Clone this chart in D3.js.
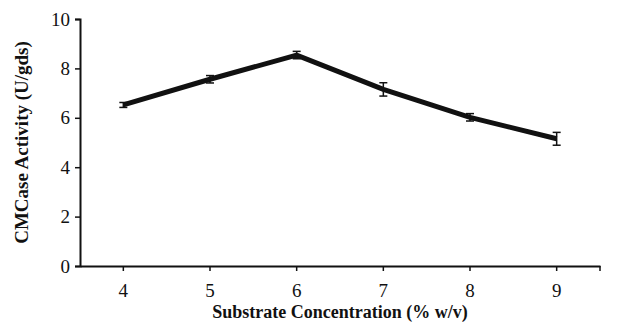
<!DOCTYPE html>
<html>
<head>
<meta charset="utf-8">
<script src="https://cdn.jsdelivr.net/npm/d3@7"></script>
<style>
  body { margin: 0; background: #fff; }
  text { font-family: "Liberation Serif", "Times New Roman", serif; fill: #111; }
</style>
</head>
<body>
<svg id="chart" width="636" height="322"></svg>
<script>
// substrate concentration (% w/v)
const categories = ['4', '5', '6', '7', '8', '9'];
// CMCase activity (U/gds)
const activity = [6.52, 7.56, 8.54, 7.15, 6.02, 5.15];
const errors = [0.10, 0.15, 0.15, 0.27, 0.15, 0.26];
const yTicks = [0, 2, 4, 6, 8, 10];

const margin = { top: 19, right: 36, bottom: 56, left: 80 };
const width = 636, height = 322;

const svg = d3.select('#chart');

const x = d3.scaleBand()
    .domain(categories)
    .range([margin.left, width - margin.right]);

const y = d3.scaleLinear()
    .domain([0, 10])
    .range([height - margin.bottom, margin.top]);

const cx = d => x(d) + x.bandwidth() / 2;

// y axis
const yAxis = svg.append('g')
    .attr('transform', 'translate(' + margin.left + ',0)')
    .call(d3.axisLeft(y).tickValues(yTicks).tickSize(5).tickPadding(5));
yAxis.select('.domain').attr('stroke', '#111').attr('stroke-width', 2);
yAxis.selectAll('.tick line').attr('stroke', '#111').attr('stroke-width', 1.5);
yAxis.selectAll('text').style('font-size', '19px').attr('fill', '#111');

// x axis - ticks under each category label
const xAxis = svg.append('g')
    .attr('transform', 'translate(0,' + (height - margin.bottom) + ')')
    .call(d3.axisBottom(x).tickSize(5).tickSizeOuter(0).tickPadding(13));
xAxis.select('.domain').attr('stroke', '#111').attr('stroke-width', 2);
xAxis.selectAll('.tick line').attr('stroke', '#111').attr('stroke-width', 1.5);
xAxis.selectAll('text').style('font-size', '19px').attr('fill', '#111');
xAxis.append('line')
    .attr('x1', width - margin.right).attr('x2', width - margin.right)
    .attr('y1', 0).attr('y2', 5)
    .attr('stroke', '#111').attr('stroke-width', 1.5);

// axis titles
svg.append('text')
    .attr('x', (margin.left + width - margin.right) / 2)
    .attr('y', height - 4)
    .attr('text-anchor', 'middle')
    .style('font-size', '18px')
    .style('font-weight', 'bold')
    .text('Substrate Concentration (% w/v)');

svg.append('text')
    .attr('transform', 'translate(28,' + ((margin.top + height - margin.bottom) / 2) + ') rotate(-90)')
    .attr('text-anchor', 'middle')
    .style('font-size', '19px')
    .style('font-weight', 'bold')
    .text('CMCase Activity (U/gds)');

// the line
const line = d3.line()
    .x((d, i) => cx(categories[i]))
    .y(d => y(d));

svg.append('path')
    .datum(activity)
    .attr('fill', 'none')
    .attr('stroke', '#111')
    .attr('stroke-width', 5)
    .attr('stroke-linejoin', 'miter')
    .attr('d', line);

// error bars
const eb = svg.append('g').attr('stroke', '#111').attr('stroke-width', 1.5);
activity.forEach((v, i) => {
    const px = cx(categories[i]);
    const lo = y(v - errors[i]), hi = y(v + errors[i]);
    eb.append('line').attr('x1', px).attr('x2', px).attr('y1', lo).attr('y2', hi);
    eb.append('line').attr('x1', px - 4).attr('x2', px + 4).attr('y1', lo).attr('y2', lo);
    eb.append('line').attr('x1', px - 4).attr('x2', px + 4).attr('y1', hi).attr('y2', hi);
});
</script>
</body>
</html>
